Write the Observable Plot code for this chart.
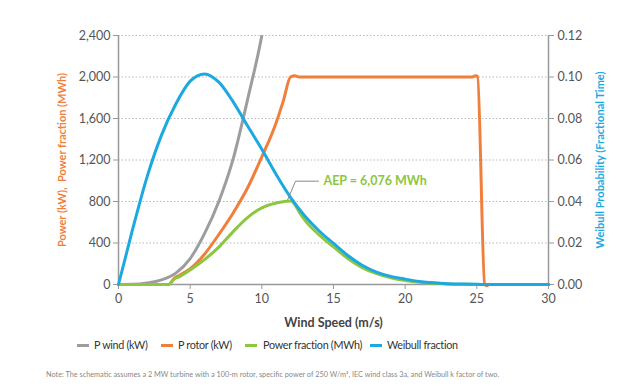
<!DOCTYPE html>
<html><head><meta charset="utf-8">
<script src="https://cdn.jsdelivr.net/npm/d3@7"></script>
<script src="https://cdn.jsdelivr.net/npm/@observablehq/plot@0.6"></script>
<style>
body{margin:0;background:#fff;font-family:Lato,"Open Sans",sans-serif;}
#chart{position:relative;width:640px;height:390px;}
.sw{position:absolute;top:344px;width:12px;height:3px}
.lt{position:absolute;top:337px;font-size:10.8px;letter-spacing:-0.3px;line-height:16px;color:#333;white-space:nowrap}
#note{position:absolute;left:46px;top:370px;font-size:7.3px;color:#888;white-space:nowrap}
</style></head><body><div id="chart"></div>
<script>
// ---- data ----
const windSpeedWind = [0,1,2,3,4,5,6,7,8,9,10,10.5];
const pWind        = [0,2,15,45,110,250,490,800,1210,1780,2400,2800];

const windSpeedRotor = [0,3.5,3.9,4.2,5,6,7,8,9,10,11,11.5,12.0,12.3,12.6,24.7,24.9,25.05,25.55,25.7,25.85,30];
const pRotor         = [0,0,62,85,152,292,482,690,930,1230,1560,1770,2000,2012,2000,2000,2013,2005,0,-12,0,0];

const windSpeedFrac = [0,3.5,3.9,4.2,5,6,7,8,9,10,11,11.7,12.05,12.3,12.6,13,14,15,16,17,18,19,20,21,22,23,24,25,26,30];
const powerFraction = [0,0,55,72,140,240,360,510,645,738,785,802,805,770,700,620,478,362,250,163,104,65,39,22,12,6,3,1,0,0];

const windSpeedWeibull = [0,1,2,3,4,5,6,7,8,9,10,11,12,13,14,15,16,17,18,19,20,21,22,23,24,25,26,27,28,29,30];
const weibull = [0,0.027,0.052,0.072,0.087,0.098,0.1015,0.0975,0.088,0.0765,0.0652,0.053,0.042,0.033,0.0258,0.0198,0.014,0.0093,0.006,0.0039,0.0026,0.0015,0.0008,0.0004,0.0002,0.0001,0,0,0,0,0];

const powerTicks   = [0,400,800,1200,1600,2000,2400];
const weibullTicks = [0,0.02,0.04,0.06,0.08,0.10,0.12];
const xTicks       = [0,5,10,15,20,25,30];
const weibullToPower = 2400 / 0.12;

const aepLabel  = [{v:14.3, p:993, t:"AEP = 6,076 MWh"}];
const aepLeader = [{v:11.8, p:815},{v:12.35, p:996},{v:13.95, p:996}];

const series = [
  {name:"P wind (kW)", color:"#9d9d9f"},
  {name:"P rotor (kW)", color:"#f07f3c"},
  {name:"Power fraction (MWh)", color:"#8dc640"},
  {name:"Weibull fraction", color:"#1ba9e0"}
];
const legendSwatchX = [77,161,245,370];
const legendTextX   = [94,178,263,387];
// ---------------------------------------

const zip = (xs, ys) => xs.map((v,i)=>({v, p: ys[i]}));
const windData = zip(windSpeedWind, pWind);
const rotorData = zip(windSpeedRotor, pRotor);
const fracData = zip(windSpeedFrac, powerFraction);
const weibData = zip(windSpeedWeibull, weibull);

const plot = Plot.plot({
  width:640, height:335,
  marginTop:35, marginBottom:51, marginLeft:118, marginRight:92,
  x:{domain:[0,30]}, y:{domain:[0,2400]},
  style:{fontFamily:"Lato, sans-serif", background:"white", overflow:"visible"},
  marks:[
    Plot.ruleY(powerTicks.slice(1), {stroke:"#b8b8b8", strokeWidth:1, strokeDasharray:"1.5,2"}),
    Plot.axisY({anchor:"left", ticks:powerTicks, tickFormat:d3.format(","), tickSize:5, tickPadding:3, fontSize:12.5, stroke:"#999", fill:"#555", label:null}),
    Plot.axisY({anchor:"right", ticks:weibullTicks.map(w=>w*weibullToPower), tickFormat:d=>(d/weibullToPower).toFixed(2), tickSize:5, tickPadding:4, fontSize:12.5, stroke:"#999", fill:"#555", label:null}),
    Plot.axisX({ticks:xTicks, tickSize:5, tickPadding:5, fontSize:12.5, stroke:"#999", fill:"#555", label:null}),
    Plot.ruleX([0,30], {stroke:"#999", strokeWidth:1.5}),
    Plot.ruleY([0], {stroke:"#999", strokeWidth:1.5}),
    Plot.line(windData, {x:"v", y:"p", stroke:series[0].color, strokeWidth:3, curve:"monotone-x", clip:true}),
    Plot.line(rotorData, {x:"v", y:"p", stroke:series[1].color, strokeWidth:3, curve:"monotone-x"}),
    Plot.line(fracData, {x:"v", y:"p", stroke:series[2].color, strokeWidth:3, curve:"monotone-x"}),
    Plot.line(weibData, {x:"v", y:d=>d.p*weibullToPower, stroke:series[3].color, strokeWidth:3, curve:"monotone-x"}),
    Plot.line(aepLeader, {x:"v", y:"p", stroke:"#888", strokeWidth:1}),
    Plot.text(aepLabel, {x:"v", y:"p", text:"t", textAnchor:"start", lineAnchor:"middle", fill:series[2].color, fontWeight:"bold", fontSize:12.5}),
    Plot.text(["Power (kW),  Power fraction (MWh)"], {frameAnchor:"left", dx:-56, rotate:-90, textAnchor:"middle", lineAnchor:"middle", fill:series[1].color, fontWeight:"bold", fontSize:11}),
    Plot.text(["Weibull Probability (Fractional Time)"], {frameAnchor:"right", dx:52, rotate:-90, textAnchor:"middle", lineAnchor:"middle", fill:series[3].color, fontWeight:"bold", fontSize:11}),
    Plot.text(["Wind Speed (m/s)"], {frameAnchor:"bottom", dy:38, textAnchor:"middle", lineAnchor:"middle", fill:"#444", fontWeight:"bold", fontSize:12.5})
  ]
});
const chart = document.getElementById("chart");
chart.appendChild(plot);

series.forEach((s, i) => {
  const sw = document.createElement("div"); sw.className = "sw";
  sw.style.left = legendSwatchX[i] + "px"; sw.style.background = s.color;
  const tx = document.createElement("div"); tx.className = "lt";
  tx.style.left = legendTextX[i] + "px"; tx.textContent = s.name;
  chart.appendChild(sw); chart.appendChild(tx);
});

const note = document.createElement("div");
note.id = "note";
note.textContent = "Note: The schematic assumes a 2 MW turbine with a 100-m rotor, specific power of 250 W/m², IEC wind class 3a, and Weibull k factor of two.";
chart.appendChild(note);
</script></body></html>
